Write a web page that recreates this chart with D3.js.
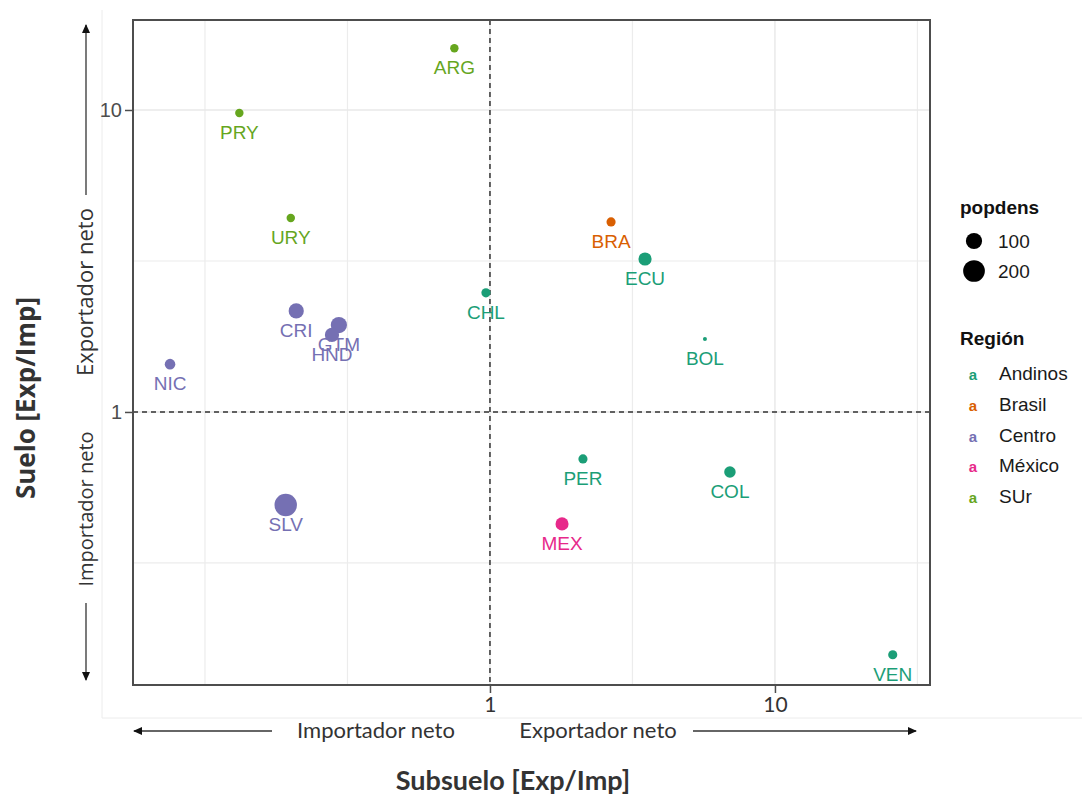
<!DOCTYPE html>
<html>
<head>
<meta charset="utf-8">
<script src="https://cdn.jsdelivr.net/npm/d3@7"></script>
<style>
  html, body { margin: 0; padding: 0; background: #ffffff; }
  svg { display: block; }
</style>
</head>
<body>
<svg id="chart" width="1082" height="796"></svg>
<script>
// Country codes and their region
const countries = ["ARG", "PRY", "URY", "BRA", "ECU", "CHL", "BOL", "CRI", "GTM", "HND", "NIC", "PER", "COL", "MEX", "SLV", "VEN"];
const countryRegion = ["SUr", "SUr", "SUr", "Brasil", "Andinos", "Andinos", "Andinos", "Centro", "Centro", "Centro", "Centro", "Andinos", "Andinos", "México", "Centro", "Andinos"];
// Subsuelo (x) and suelo (y) export/import ratios
const subsuelo = [0.75, 0.132, 0.20, 2.66, 3.50, 0.968, 5.68, 0.209, 0.295, 0.279, 0.0754, 2.12, 6.95, 1.79, 0.192, 25.9];
const suelo = [16.0, 9.78, 4.39, 4.26, 3.21, 2.48, 1.745, 2.16, 1.94, 1.80, 1.44, 0.699, 0.633, 0.426, 0.492, 0.157];
// Population density
const popdens = [22, 22, 22, 26, 61, 26, 10, 86, 101, 73, 36, 26, 44, 60, 215, 26];

// Legend content
const regions = ["Andinos", "Brasil", "Centro", "México", "SUr"];
const regionColors = ["#1B9E77", "#D95F02", "#7570B3", "#E7298A", "#66A61E"];
const sizeBreaks = [100, 200];

// Axis breaks
const xTicks = [1, 10];
const yTicks = [1, 10];
const xMinor = [0.1, 0.3162, 3.162, 31.62];
const yMinor = [0.3162, 3.162];

const svg = d3.select("#chart");

const panel = { left: 133, right: 930, top: 20, bottom: 685 };

const x = d3.scaleLog().domain([0.0559, 35.0]).range([panel.left, panel.right]);
const y = d3.scaleLog().domain([0.1247, 19.86]).range([panel.bottom, panel.top]);

const color = d3.scaleOrdinal().domain(regions).range(regionColors);

// Size: area-proportional between the data extremes
const norm = d3.scaleLinear().domain(d3.extent(popdens)).range([0, 1]);
const rUnit = d3.scaleSqrt().domain([0, 1]).range([0, 9.2]);
const radius = v => 2 + rUnit(Math.max(0, norm(v)));

const data = countries.map((c, i) => ({
  code: c, region: countryRegion[i], sx: subsuelo[i], sy: suelo[i], pd: popdens[i]
}));

const labelFont = "'Liberation Sans', Arial, sans-serif";
const annotFont = "Lato, 'Open Sans', sans-serif";
const sideFont = "'Open Sans', sans-serif";

// Faint frame of the plot image
svg.append("line").attr("x1", 102).attr("x2", 102).attr("y1", 10).attr("y2", 718)
  .attr("stroke", "#ececec").attr("stroke-width", 1);
svg.append("line").attr("x1", 102).attr("x2", 1082).attr("y1", 718).attr("y2", 718)
  .attr("stroke", "#ececec").attr("stroke-width", 1);

// Grid
const grid = svg.append("g");
grid.selectAll(".vminor").data(xMinor).join("line")
  .attr("x1", d => x(d)).attr("x2", d => x(d))
  .attr("y1", panel.top).attr("y2", panel.bottom)
  .attr("stroke", "#ececec").attr("stroke-width", 1.2);
grid.selectAll(".hminor").data(yMinor).join("line")
  .attr("y1", d => y(d)).attr("y2", d => y(d))
  .attr("x1", panel.left).attr("x2", panel.right)
  .attr("stroke", "#ececec").attr("stroke-width", 1.2);
grid.selectAll(".vmajor").data(xTicks).join("line")
  .attr("x1", d => x(d)).attr("x2", d => x(d))
  .attr("y1", panel.top).attr("y2", panel.bottom)
  .attr("stroke", "#e8e8e8").attr("stroke-width", 1.4);
grid.selectAll(".hmajor").data(yTicks).join("line")
  .attr("y1", d => y(d)).attr("y2", d => y(d))
  .attr("x1", panel.left).attr("x2", panel.right)
  .attr("stroke", "#e8e8e8").attr("stroke-width", 1.4);

// Reference lines at ratio 1
svg.append("line").attr("x1", x(1)).attr("x2", x(1))
  .attr("y1", panel.top).attr("y2", panel.bottom)
  .attr("stroke", "#333").attr("stroke-width", 1.5).attr("stroke-dasharray", "5,4");
svg.append("line").attr("y1", y(1)).attr("y2", y(1))
  .attr("x1", panel.left).attr("x2", panel.right)
  .attr("stroke", "#333").attr("stroke-width", 1.5).attr("stroke-dasharray", "5,4");

// Country labels (below each point)
svg.append("g").selectAll("text").data(data).join("text")
  .attr("x", d => x(d.sx))
  .attr("y", d => y(d.sy) + 26)
  .attr("text-anchor", "middle")
  .attr("font-family", labelFont)
  .attr("font-size", 19)
  .attr("fill", d => color(d.region))
  .text(d => d.code);

// Points
svg.append("g").selectAll("circle").data(data).join("circle")
  .attr("cx", d => x(d.sx))
  .attr("cy", d => y(d.sy))
  .attr("r", d => radius(d.pd))
  .attr("fill", d => color(d.region));

// Panel border
svg.append("rect")
  .attr("x", panel.left).attr("y", panel.top)
  .attr("width", panel.right - panel.left).attr("height", panel.bottom - panel.top)
  .attr("fill", "none").attr("stroke", "#4d4d4d").attr("stroke-width", 2);

// Y axis
const yAxis = d3.axisLeft(y).tickValues(yTicks).tickFormat(d3.format("d")).tickSize(7).tickPadding(3);
const gy = svg.append("g").attr("transform", `translate(${panel.left - 1},0)`).call(yAxis);
gy.select(".domain").remove();
gy.selectAll(".tick line").attr("stroke", "#4d4d4d").attr("stroke-width", 1.5);
gy.selectAll(".tick text").attr("font-family", labelFont).attr("font-size", 20).attr("fill", "#4d4d4d");

// X axis
const xAxis = d3.axisBottom(x).tickValues(xTicks).tickFormat(d3.format("d")).tickSize(7).tickPadding(4);
const gx = svg.append("g").attr("transform", `translate(0,${panel.bottom + 1})`).call(xAxis);
gx.select(".domain").remove();
gx.selectAll(".tick line").attr("stroke", "#4d4d4d").attr("stroke-width", 1.5);
gx.selectAll(".tick text").attr("font-family", annotFont).attr("font-size", 21).attr("fill", "#333");

// Arrow marker
const defs = svg.append("defs");
defs.append("marker").attr("id", "arrow")
  .attr("viewBox", "0 0 10 10").attr("refX", 9).attr("refY", 5)
  .attr("markerWidth", 7).attr("markerHeight", 7).attr("orient", "auto")
  .append("path").attr("d", "M0,0.5 L10,5 L0,9.5 Z").attr("fill", "#111");

const arrowColor = "#333";

// Horizontal direction annotations
svg.append("line").attr("x1", 272).attr("y1", 731).attr("x2", 134).attr("y2", 731)
  .attr("stroke", arrowColor).attr("stroke-width", 1.3).attr("marker-end", "url(#arrow)");
svg.append("line").attr("x1", 693).attr("y1", 731).attr("x2", 916).attr("y2", 731)
  .attr("stroke", arrowColor).attr("stroke-width", 1.3).attr("marker-end", "url(#arrow)");
svg.append("text").attr("x", 376).attr("y", 738).attr("text-anchor", "middle")
  .attr("font-family", annotFont).attr("font-size", 22).attr("fill", "#333").text("Importador neto");
svg.append("text").attr("x", 598).attr("y", 738).attr("text-anchor", "middle")
  .attr("font-family", annotFont).attr("font-size", 22).attr("fill", "#333").text("Exportador neto");

// Vertical direction annotations
svg.append("line").attr("x1", 86).attr("y1", 195).attr("x2", 86).attr("y2", 25)
  .attr("stroke", arrowColor).attr("stroke-width", 1.3).attr("marker-end", "url(#arrow)");
svg.append("line").attr("x1", 86).attr("y1", 603).attr("x2", 86).attr("y2", 680)
  .attr("stroke", arrowColor).attr("stroke-width", 1.3).attr("marker-end", "url(#arrow)");
svg.append("text").attr("transform", "translate(93,292) rotate(-90)").attr("text-anchor", "middle")
  .attr("font-family", sideFont).attr("font-size", 22).attr("fill", "#333").text("Exportador neto");
svg.append("text").attr("transform", "translate(93,509) rotate(-90)").attr("text-anchor", "middle")
  .attr("font-family", sideFont).attr("font-size", 20).attr("fill", "#333").text("Importador neto");

// Axis titles
svg.append("text").attr("x", 513).attr("y", 790).attr("text-anchor", "middle")
  .attr("font-family", annotFont).attr("font-weight", "bold").attr("font-size", 27).attr("fill", "#333")
  .text("Subsuelo [Exp/Imp]");
svg.append("text").attr("transform", "translate(35,398) rotate(-90)").attr("text-anchor", "middle")
  .attr("font-family", sideFont).attr("font-weight", "bold").attr("font-size", 26).attr("fill", "#333")
  .text("Suelo [Exp/Imp]");

// Legend: popdens
const lg = svg.append("g");
lg.append("text").attr("x", 960).attr("y", 214)
  .attr("font-family", labelFont).attr("font-weight", "bold").attr("font-size", 19).attr("fill", "#111")
  .text("popdens");
lg.selectAll(".sz").data(sizeBreaks).join("circle")
  .attr("cx", 974).attr("cy", (d, i) => 241 + i * 30)
  .attr("r", d => radius(d)).attr("fill", "#000");
lg.selectAll(".szl").data(sizeBreaks).join("text")
  .attr("x", 998).attr("y", (d, i) => 248 + i * 30)
  .attr("font-family", labelFont).attr("font-size", 19).attr("fill", "#1a1a1a")
  .text(d => d);

// Legend: Región
lg.append("text").attr("x", 960).attr("y", 345)
  .attr("font-family", labelFont).attr("font-weight", "bold").attr("font-size", 19).attr("fill", "#111")
  .text("Región");
const rows = lg.selectAll(".reg").data(regions).join("g")
  .attr("transform", (d, i) => `translate(0,${380 + i * 30.8})`);
rows.append("text").attr("x", 973).attr("y", 0).attr("text-anchor", "middle")
  .attr("font-family", labelFont).attr("font-weight", "bold").attr("font-size", 15)
  .attr("fill", d => color(d)).text("a");
rows.append("text").attr("x", 999).attr("y", 0)
  .attr("font-family", labelFont).attr("font-size", 19).attr("fill", "#1a1a1a")
  .text(d => d);
</script>
</body>
</html>
